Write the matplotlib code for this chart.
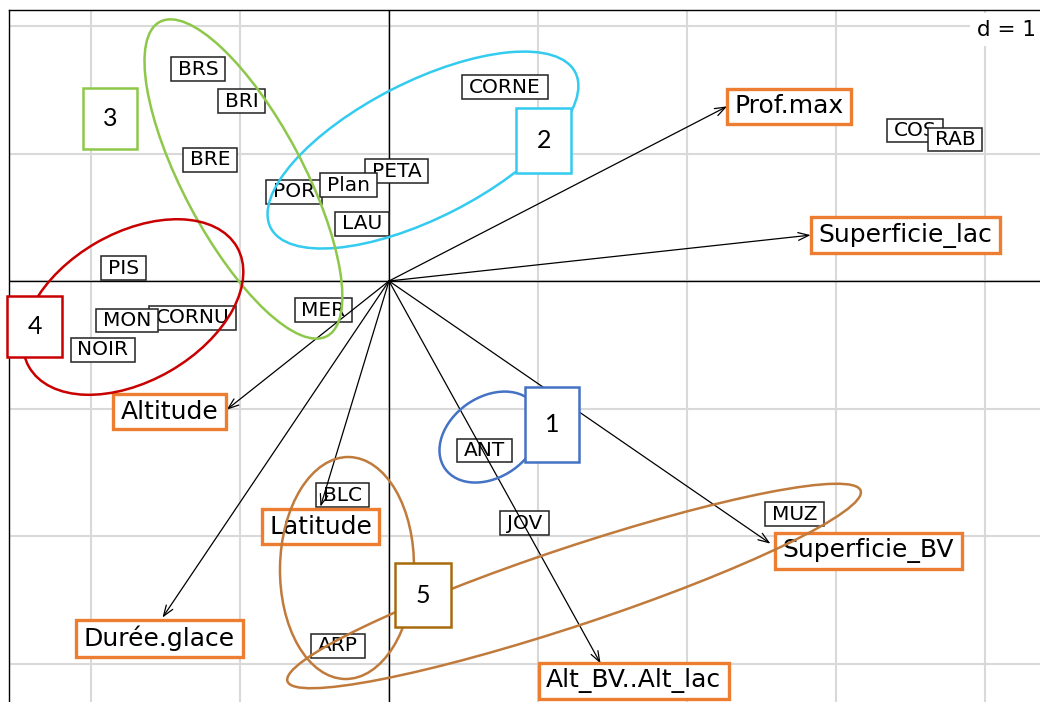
import matplotlib
matplotlib.use("Agg")
import matplotlib.pyplot as plt
from matplotlib.patches import Ellipse, Rectangle
from matplotlib.path import Path
from matplotlib.transforms import Affine2D

# lakes (rows) - coordinates on axes 1 and 2
lakes = ["BRS", "BRI", "BRE", "POR", "PETA", "Plan", "LAU", "CORNE", "COS", "RAB",
         "PIS", "CORNU", "MON", "NOIR", "MER", "ANT", "JOV", "MUZ", "BLC", "ARP"]
lake_x = [-1.28, -0.99, -1.20, -0.64, 0.05, -0.27, -0.18, 0.78, 3.53, 3.80,
          -1.78, -1.32, -1.76, -1.92, -0.44, 0.64, 0.91, 2.72, -0.31, -0.34]
lake_y = [1.66, 1.41, 0.95, 0.70, 0.86, 0.75, 0.45, 1.52, 1.18, 1.11,
          0.10, -0.29, -0.31, -0.54, -0.23, -1.33, -1.90, -1.83, -1.68, -2.86]

# variables (columns) - arrows
variables = ["Prof.max", "Superficie_lac", "Altitude", "Latitude", "Durée.glace",
             "Superficie_BV", "Alt_BV..Alt_lac"]
var_x = [2.27, 2.83, -1.09, -0.46, -1.52, 2.56, 1.42]
var_y = [1.37, 0.36, -1.01, -1.77, -2.64, -2.06, -3.00]

# groups drawn by hand on top of the biplot
groups = ["1", "2", "3", "4", "5"]
group_colors = ["#4472C4", "#33CBEF", "#8DC84A", "#C80000", "#A66C0C"]

fig = plt.figure(figsize=(10.4, 7.02), dpi=100)
ax = fig.add_axes([9 / 1040, -18 / 702, 1051 / 1040, 710 / 702])
ax.set_xlim(-2.5503, 4.5034)
ax.set_ylim(-3.4431, 2.1255)
ax.set_xticks(range(-2, 5))
ax.set_yticks(range(-3, 3))
ax.tick_params(length=0, labelbottom=False, labelleft=False)
ax.grid(color="#D9D9D9", lw=1.5, zorder=0)
ax.set_axisbelow(True)
for s in ax.spines.values():
    s.set_linewidth(1.0)
ax.axhline(0, color="black", lw=1.0, zorder=1)
ax.axvline(0, color="black", lw=1.0, zorder=1)


def box_style(padx, pady):
    def style(x0, y0, w, h, mutation_size):
        px, py = padx * mutation_size, pady * mutation_size
        x0, y0 = x0 - px, y0 - py
        x1, y1 = x0 + w + 2 * px, y0 + h + 2 * py
        return Path([(x0, y0), (x1, y0), (x1, y1), (x0, y1), (x0, y0)], closed=True)
    return style


# lake labels
for name, x, y in zip(lakes, lake_x, lake_y):
    ax.text(x, y, name, ha="center", va="center", fontsize=14.5, color="black", zorder=3,
            bbox=dict(boxstyle=box_style(0.34, 0.12), fc="white", ec="#222222", lw=1.1))

# arrows + variable labels
label_offsets = [(62, 0), (95, 0), (-57, -2), (0, -20), (-3, -21), (98, -7), (33, -17)]
for name, x, y, off in zip(variables, var_x, var_y, label_offsets):
    ax.annotate("", xy=(x, y), xytext=(0, 0), zorder=4,
                arrowprops=dict(arrowstyle="->,head_length=0.55,head_width=0.2", lw=0.9,
                                color="black", shrinkA=0, shrinkB=0, mutation_scale=14))
    ax.annotate(name, xy=(x, y), xytext=off, textcoords="offset pixels",
                ha="center", va="center", fontsize=18, color="black", zorder=5,
                bbox=dict(boxstyle=box_style(0.3, 0.22), fc="white", ec="#ED7D31", lw=2.4))

ax.text(4.34, 1.97, "d = 1", ha="right", va="center", fontsize=15.5, zorder=5,
        bbox=dict(boxstyle="square,pad=0.3", fc="white", ec="none"))

# ellipses, drawn in an isotropic frame (1 unit = one x grid step)
aspect = 127.5 / 149
iso = Affine2D().scale(1, 1 / aspect) + ax.transData
ellipses = [
    (0, 0.678, -1.224, 0.738, 0.537, 35),
    (1, 0.228, 1.027, 2.295, 0.913, 27),
    (2, -0.977, 0.800, 2.389, 0.805, 118),
    (3, -1.718, -0.204, 1.611, 0.993, 30),
    (4, -0.282, -2.251, 1.490, 0.899, 89),
    (4, 1.242, -2.392, 4.054, 0.523, 18.4),
]
ell_colors = ["#4472C4", "#33CBEF", "#8DC84A", "#C80000", "#C07B3C"]
for g, cx, cy, w, h, ang in ellipses:
    ax.add_patch(Ellipse((cx, cy * aspect), w, h, angle=ang, transform=iso,
                         fill=False, ec=ell_colors[g], lw=1.8, zorder=6))

# numbered boxes
box_pos = [(1.094, -1.122, 0.362, 0.588), (1.040, 1.102, 0.369, 0.510),
           (-1.872, 1.275, 0.362, 0.478), (-2.379, -0.357, 0.369, 0.478),
           (0.228, -2.463, 0.376, 0.502)]
for lab, col, (cx, cy, w, h) in zip(groups, group_colors, box_pos):
    ax.add_patch(Rectangle((cx - w / 2, cy - h / 2), w, h, fc="white", ec=col, lw=1.8,
                           zorder=7, clip_on=False))
    ax.text(cx, cy, lab, ha="center", va="center", fontsize=18, family="Lato", zorder=8)

fig.savefig("out.png", dpi=100)
